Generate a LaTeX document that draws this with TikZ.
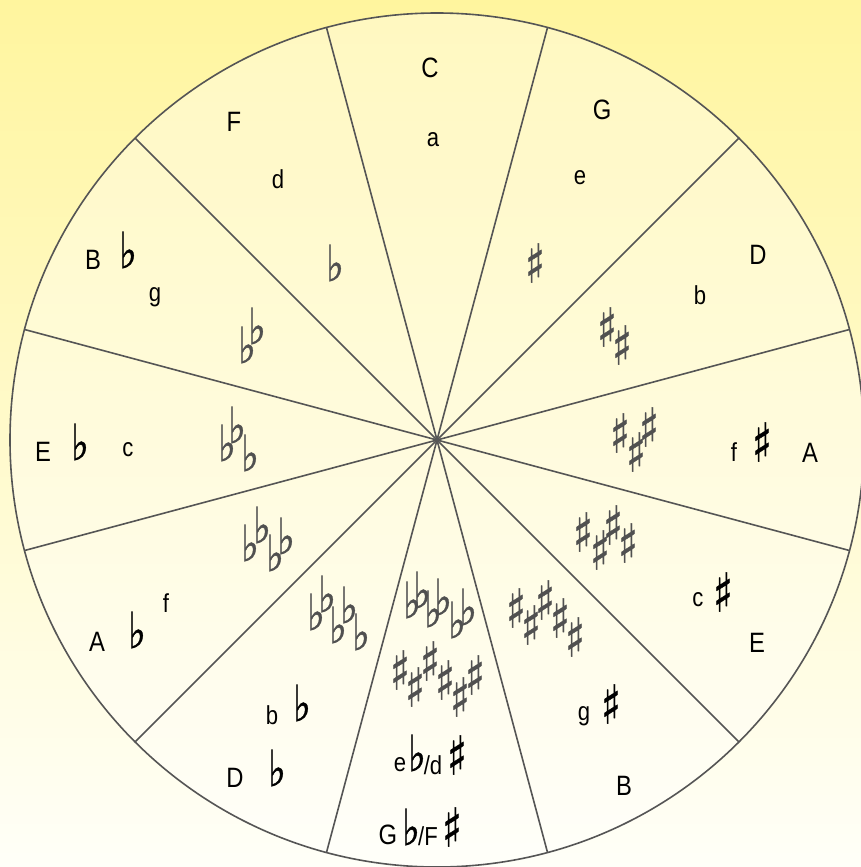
\documentclass[tikz,border=0pt]{standalone}
\usepackage{fontspec}
\setmainfont{Liberation Sans}[FakeStretch=0.85]
\newfontfamily\accfont{DejaVu Sans}[FakeBold=0.8, FakeStretch=0.75]
\usetikzlibrary{positioning}
\definecolor{bgTop}{HTML}{FFF59E}
\definecolor{bgBot}{HTML}{FFFFF8}
\definecolor{lineGray}{HTML}{555555}
\definecolor{sigGray}{HTML}{505050}

\begin{document}
\begin{tikzpicture}[
    x=0.5pt, y=-0.5pt,
    spoke/.style={draw=lineGray, line width=0.8pt},
    major/.style={font=\fontsize{14}{14}\selectfont, inner sep=0pt},
    minor/.style={font=\fontsize{13}{13}\selectfont, inner sep=0pt},
    shp/.style={font=\accfont\fontsize{27}{27}\selectfont, inner sep=0pt},
    flt/.style={font=\accfont\fontsize{25}{25}\selectfont, inner sep=0pt},
    shpsig/.style={shp, text=sigGray},
    fltsig/.style={flt, text=sigGray}
]
  \useasboundingbox (0,0) rectangle (861,867);
  \clip (0,0) rectangle (861,867);
  \fill[top color=bgTop, bottom color=bgBot] (0,0) rectangle (861,867);
  \coordinate (o) at (437,440);
  \fill[white, opacity=0.35] (o) circle[radius=427];
  \foreach \a in {15,45,...,345}
    \draw[spoke] (o) -- ++(\a:427);
  \draw[spoke] (o) circle[radius=427];

  % major and minor keys
  \node[major] (kC) at (430,68) {C};
  \node[minor] (mA) at (433,140) {a};
  \node[major] (kG) at (602,110) {G};
  \node[minor] (mE) at (580,178) {e};
  \node[major] (kD) at (758,255) {D};
  \node[minor] (mB) at (700,295) {b};
  \node[major] (kA) at (810,453) {A};
  \node[minor] (mFs) at (734,452) {f};
  \node[shp] (mFsAcc) at (762,442) {♯};
  \node[major] (kE) at (757,643) {E};
  \node[minor] (mCs) at (698,600) {c};
  \node[shp] (mCsAcc) at (723,592) {♯};
  \node[major] (kB) at (624,786) {B};
  \node[minor] (mGs) at (584,716) {g};
  \node[shp] (mGsAcc) at (611,704) {♯};
  \node[major] (kF) at (234,122) {F};
  \node[minor] (mD) at (278,179) {d};
  \node[major] (kBb) at (93,260) {B};
  \node[flt] (kBbAcc) at (128,250) {♭};
  \node[minor] (mG) at (155,297) {g};
  \node[major] (kEb) at (43,452) {E};
  \node[flt] (kEbAcc) at (80,442) {♭};
  \node[minor] (mC) at (128,450) {c};
  \node[major] (kAb) at (97,642) {A};
  \node[flt] (kAbAcc) at (137,630) {♭};
  \node[minor] (mF) at (166,603) {f};
  \node[major] (kDb) at (235,778) {D};
  \node[flt] (kDbAcc) at (277,768) {♭};
  \node[minor] (mBb) at (272,715) {b};
  \node[flt] (mBbAcc) at (302,703) {♭};

  % enharmonic pair at the bottom
  \node[minor] (mEb) at (400,765) {e};
  \node[flt] (mEbAcc) at (417,753) {♭};
  \node[minor] (mDs) at (433,765) {/d};
  \node[shp] (mDsAcc) at (457,755) {♯};
  \node[major] (kGb) at (388,835) {G};
  \node[flt] (kGbAcc) at (411,827) {♭};
  \node[minor] (kFs) at (428,836) {/F};
  \node[shp] (kFsAcc) at (452,827) {♯};

  % key signatures
  \foreach \x/\y [count=\i] in {535/263, 607/327,622/345,
      620/433,636/452,649/427, 583/532,600/550,613/525,628/543,
      516/608,531/625,545/600,560/618,575/637,
      400/670,415/687,430/661,445/680,460/697,475/675}
    \node[shpsig] (sh\i) at (\x,\y) {♯};
  \foreach \x/\y [count=\i] in {335/263, 247/345,257/326,
      227/443,237/425,250/453, 250/543,262/525,275/553,286/536,
      316/612,327/594,338/625,349/605,361/632,
      412/600,422/590,433/609,443/597,457/620,468/607}
    \node[fltsig] (fl\i) at (\x,\y) {♭};
\end{tikzpicture}
\end{document}
